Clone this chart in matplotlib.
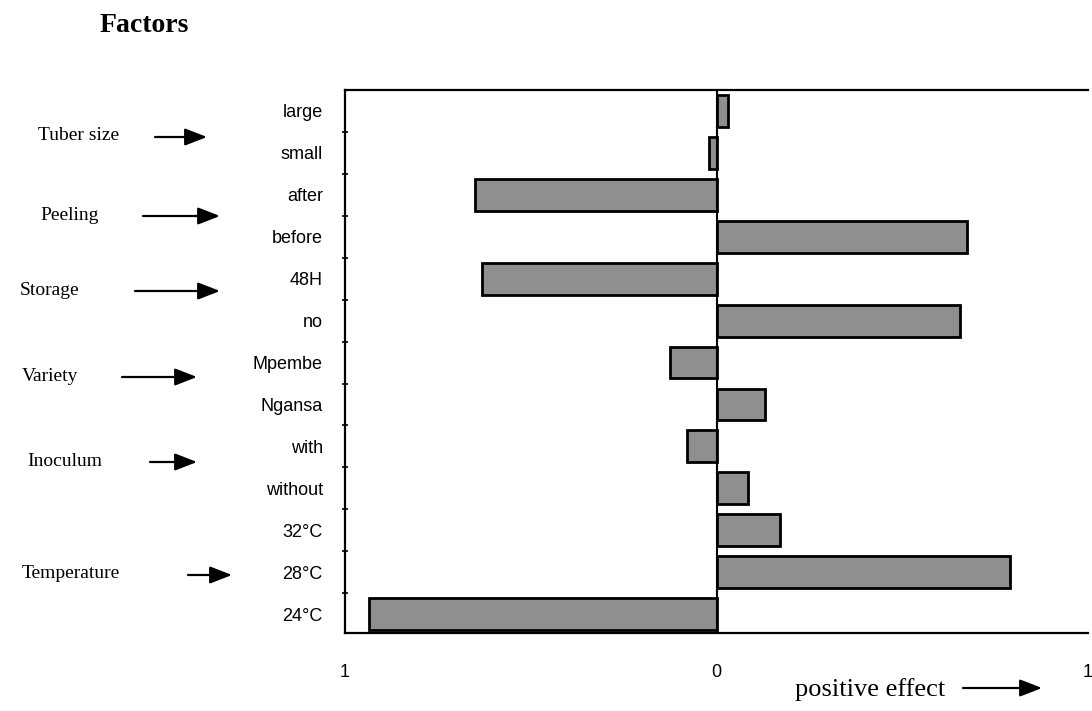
import matplotlib
matplotlib.use("Agg")
import matplotlib.pyplot as plt
import numpy as np

categories = ["large", "small", "after", "before", "48H", "no", "Mpembe",
              "Ngansa", "with", "without", "32°C", "28°C", "24°C"]
effects = [0.03, -0.02, -0.65, 0.675, -0.63, 0.655, -0.125,
           0.13, -0.08, 0.085, 0.172, 0.79, -0.935]
xtick_vals = [-1, 0, 1]
xtick_labels = ["1", "0", "1"]

groups = ["Tuber size", "Peeling", "Storage", "Variety", "Inoculum", "Temperature"]
# figure-pixel anchors for group labels (text x, y, arrow start x, arrow end x)
group_pos = [(38, 136, 155, 207), (40, 215, 143, 220), (20, 290, 135, 220),
             (22, 376, 122, 197), (27, 461, 150, 197), (22, 574, 188, 232)]

W, H = 1092, 711
fig = plt.figure(figsize=(W / 100, H / 100), dpi=100)
ax = fig.add_axes([345 / W, 1 - 633 / H, (1088 - 345) / W, (633 - 90) / H])

y = np.arange(len(categories))
ax.barh(y, effects, height=0.76, color="#8f8f8f", edgecolor="black", linewidth=2.0, zorder=3)
ax.axvline(0, color="black", lw=1.5, zorder=4)

ax.set_xlim(-1, 1)
ax.set_ylim(len(categories) - 0.55, -0.5)
ax.set_yticks(y)
ax.set_yticklabels(categories, fontfamily="Liberation Sans", fontsize=13)
ax.tick_params(axis="y", which="major", length=0, pad=16)
ax.set_yticks(y[:-1] + 0.5, minor=True)
ax.tick_params(axis="y", which="minor", length=5, width=1.2, direction="inout")
ax.set_xticks(xtick_vals)
ax.set_xticklabels(xtick_labels, fontfamily="Liberation Sans", fontsize=13)
ax.tick_params(axis="x", length=0, pad=22)

ax.spines["right"].set_visible(False)
for s in ["left", "bottom", "top"]:
    ax.spines[s].set_linewidth(1.6)

serif = "Liberation Serif"
fig.text(100 / W, 1 - 26 / H, "Factors", fontfamily=serif, fontsize=20,
         fontweight="bold", va="center", ha="left")

arrow_style = "-|>,head_length=0.9,head_width=0.35"
for name, (tx, ty, ax0, ax1) in zip(groups, group_pos):
    fig.text(tx / W, 1 - ty / H, name, fontfamily=serif, fontsize=14, va="center", ha="left")
    fig.add_artist(matplotlib.patches.FancyArrowPatch(
        (ax0 / W, 1 - (ty + 1) / H), (ax1 / W, 1 - (ty + 1) / H),
        transform=fig.transFigure, arrowstyle=arrow_style,
        color="black", lw=1.6, mutation_scale=15, shrinkA=0, shrinkB=0))

fig.text(795 / W, 1 - 690 / H, "positive effect", fontfamily=serif, fontsize=19,
         va="center", ha="left")
fig.add_artist(matplotlib.patches.FancyArrowPatch(
    (963 / W, 1 - 688 / H), (1042 / W, 1 - 688 / H), transform=fig.transFigure,
    arrowstyle=arrow_style, color="black", lw=1.6, mutation_scale=15,
    shrinkA=0, shrinkB=0))

fig.savefig("out.png", dpi=100)
